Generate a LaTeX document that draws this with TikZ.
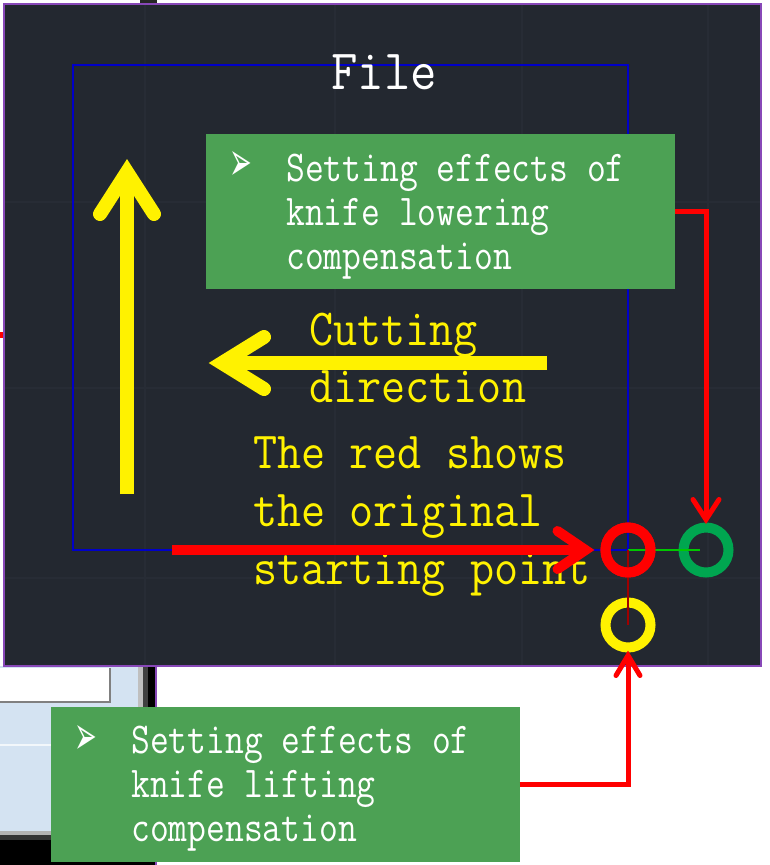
\documentclass[tikz,border=0pt]{standalone}
\usepackage{fontspec}
\usepackage{graphicx}
\usetikzlibrary{calc}
\newfontfamily\dejavu{DejaVu Sans}
\definecolor{bgdark}{RGB}{35,40,48}
\definecolor{gridc}{RGB}{39,44,53}
\definecolor{framec}{RGB}{136,72,184}
\definecolor{cadblue}{RGB}{0,0,200}
\definecolor{boxgreen}{RGB}{76,161,84}
\definecolor{ringgreen}{RGB}{0,166,80}
\definecolor{linegreen}{RGB}{0,200,0}
\definecolor{darkredc}{RGB}{160,0,0}
\definecolor{panelc}{RGB}{212,227,242}
\newcommand{\nx}[2]{\scalebox{#1}[1]{#2}}
\tikzset{
  ytext/.style={text=yellow, font=\ttfamily\fontsize{52}{58}\selectfont, anchor=base west, inner sep=0pt},
  wtext/.style={text=white, font=\ttfamily\fontsize{44}{44}\selectfont, anchor=base west, inner sep=0pt},
  bullet/.style={text=white, font=\dejavu\fontsize{34}{34}\selectfont, inner sep=0pt},
  gbox/.style={rectangle, fill=boxgreen, draw=none, minimum width=469pt, minimum height=155pt, inner sep=0pt},
  ring/.style={circle, draw, line width=10pt, minimum size=45pt, inner sep=0pt},
  redcon/.style={draw=red, line width=5pt},
  chev/.style={line cap=round, line join=miter, miter limit=20},
  yarrow/.style={draw=yellow, line width=14pt},
  gridl/.style={draw=gridc, line width=1.2pt}
}
\begin{document}
\begin{tikzpicture}[x=1pt,y=-1pt]
\useasboundingbox (0,0) rectangle (769,865);
\fill[white] (0,0) rectangle (769,865);
% outside GUI bits
\fill[black!85] (140,0) rectangle (157,4);
\fill[red] (0,332) rectangle (3,338);
\fill[panelc] (0,666) rectangle (140,834);
\fill[white] (0,668) rectangle (110,702);
\draw[gray, line width=1.5pt] (0,702) -- (110,702) -- (110,668);
\draw[white!70!panelc, line width=1.5pt] (0,745) -- (140,745);
\fill[gray!50] (138,666) rectangle (143,840);
\fill[black!75] (143,666) rectangle (148,865);
\fill[black] (148,666) rectangle (157,865);
\fill[gray!60] (0,831) rectangle (148,835);
\fill[black!80] (0,835) rectangle (148,840);
\fill[black] (0,840) rectangle (148,865);
\draw[framec, line width=2pt] (156,666) -- (156,865);
% CAD canvas
\fill[bgdark] (4,4) rectangle (761,666);
\foreach \gx in {145,335,522,708} \draw[gridl] (\gx,5) -- (\gx,665);
\foreach \gy in {202,388,578} \draw[gridl] (5,\gy) -- (760,\gy);
\draw[framec, line width=2.6pt] (4,4) rectangle (761,666);
% file outline
\draw[cadblue, line width=2.4pt] (73,65) rectangle (628,550);
\node[text=white, font=\ttfamily\fontsize{57}{57}\selectfont, anchor=base, inner sep=0pt] (file) at (384,89) {\nx{0.9}{File}};
% points
\node[ring, draw=red] (rc) at (628,550) {};
\node[ring, draw=ringgreen] (gc) at (706,550) {};
\node[ring, draw=yellow] (yc) at (628,625) {};
\draw[linegreen, line width=2pt, shorten >=6pt] (rc.center) -- (gc.center);
\draw[darkredc, line width=2pt] (rc.center) -- (yc.center);
% texts
\node[ytext] (cut1) at (309,345) {\nx{0.9}{Cutting}};
\node[ytext] (cut2) at (309,402) {\nx{0.9}{direction}};
\node[ytext] (red1) at (253,468) {\nx{0.9}{The red shows}};
\node[ytext] (red2) at (253,526) {\nx{0.9}{the original}};
\node[ytext] (red3) at (253,584) {\nx{0.9}{starting point}};
% yellow arrows
\coordinate (va) at (127,494);
\coordinate (vb) at (127,180);
\draw[yarrow] (va) -- (vb);
\draw[yarrow, chev] (100,214) -- (127,172) -- (154,214);
\coordinate (ha) at (547,363);
\coordinate (hb) at (232,363);
\draw[yarrow] (ha) -- (hb);
\draw[yarrow, chev] (264,337) -- (222,363) -- (264,389);
% red start arrow
\coordinate (rs) at (172,550);
\draw[red, line width=10pt] (rs) -- ($(rc.west)+(-16,0)$);
\draw[red, line width=10pt, chev] ($(rc.west)+(-43,-19)$) -- ($(rc.west)+(-15,0)$) -- ($(rc.west)+(-43,19)$);
% redraw ring on top
\node[ring, draw=red] (rc2) at (rc) {};
% green boxes
\node[gbox] (box1) at (440.5,211.5) {};
\node[gbox] (box2) at (285,784.5) {};
\node[bullet] (b1) at (241,166) {\scalebox{0.8}[1.6]{➢}};
\node[wtext] (l1a) at (286,181) {\nx{0.83}{Setting effects of}};
\node[wtext] (l1b) at (286,225) {\nx{0.83}{knife lowering}};
\node[wtext] (l1c) at (286,269) {\nx{0.83}{compensation}};
\node[bullet] (b2) at (86,740) {\scalebox{0.8}[1.6]{➢}};
\node[wtext] (l2a) at (131,753) {\nx{0.83}{Setting effects of}};
\node[wtext] (l2b) at (131,797) {\nx{0.83}{knife lifting}};
\node[wtext] (l2c) at (131,841) {\nx{0.83}{compensation}};
% connectors
\draw[redcon] (box1.east) -| ($(gc.north)+(0,-6)$);
\draw[redcon, chev] ($(gc.north)+(-13,-23)$) -- ($(gc.north)+(0,-3)$) -- ($(gc.north)+(13,-23)$);
\draw[redcon] (box2.east) -| ($(yc.south)+(0,6)$);
\draw[redcon, chev] ($(yc.south)+(-12,23)$) -- ($(yc.south)+(0,3)$) -- ($(yc.south)+(12,23)$);
\end{tikzpicture}
\end{document}
